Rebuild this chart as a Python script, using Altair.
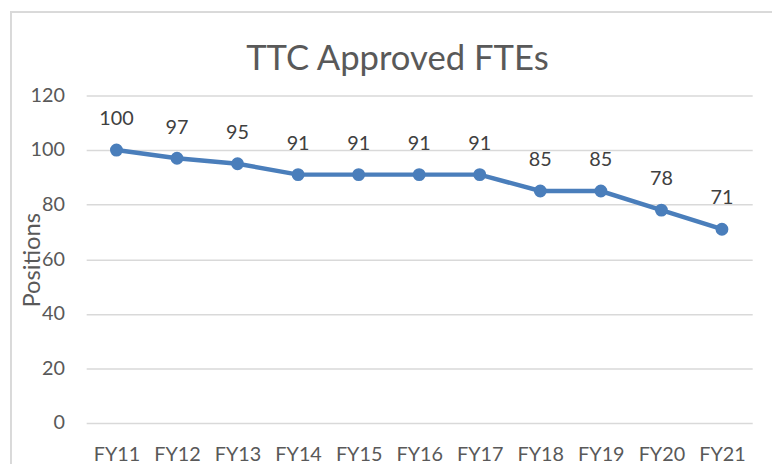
import altair as alt
import pandas as pd

years = ["FY11", "FY12", "FY13", "FY14", "FY15", "FY16", "FY17", "FY18", "FY19", "FY20", "FY21"]
positions = [100, 97, 95, 91, 91, 91, 91, 85, 85, 78, 71]

df = pd.DataFrame({"year": years, "positions": positions})

FONT = "Lato"
GREY = "#595959"
BLUE = "#4a7ebb"

x = alt.X("year:N", sort=years, title=None,
          scale=alt.Scale(paddingInner=0, paddingOuter=0.5),
          axis=alt.Axis(labelAngle=0, labelFont=FONT, labelFontSize=20, labelColor=GREY,
                        labelPadding=22, ticks=False, domain=False, grid=False))
y = alt.Y("positions:Q", title="Positions",
          scale=alt.Scale(domain=[0, 120]),
          axis=alt.Axis(values=[0, 20, 40, 60, 80, 100, 120], labelFont=FONT, labelFontSize=20,
                        labelColor=GREY, labelPadding=22, ticks=False, domain=False,
                        gridColor="#d9d9d9", gridWidth=1.5,
                        titleFont=FONT, titleFontSize=24, titleColor=GREY, titleFontWeight="normal",
                        titleAngle=-90, titleAlign="center", titleBaseline="middle",
                        titleX=-54, titleY=166))

base = alt.Chart(df).encode(x=x, y=y)

line = base.mark_line(color=BLUE, strokeWidth=4.5)
pts = base.mark_point(filled=True, color=BLUE, size=170, opacity=1)
labels = base.mark_text(dy=-31, font=FONT, fontSize=20, color="#404040").encode(text="positions:Q")

border = alt.Chart(df).mark_rect(fill=None, stroke="#d9d9d9", strokeWidth=1.5).encode(
    x=alt.value(-76), x2=alt.value(800), y=alt.value(-84), y2=alt.value(500))

chart = alt.layer(border, line, pts, labels).properties(
    width=673, height=331,
    title=alt.TitleParams("TTC Approved FTEs", font=FONT, fontSize=35, color=GREY,
                          fontWeight="normal", anchor="middle", baseline="bottom", dy=105, dx=-22),
    autosize="none",
    padding={"left": 79, "top": 86, "right": 20, "bottom": 39},
).configure_view(stroke=None).configure_title(offset=0)

chart.save("out.html", embed_options={"renderer": "svg", "actions": False})
